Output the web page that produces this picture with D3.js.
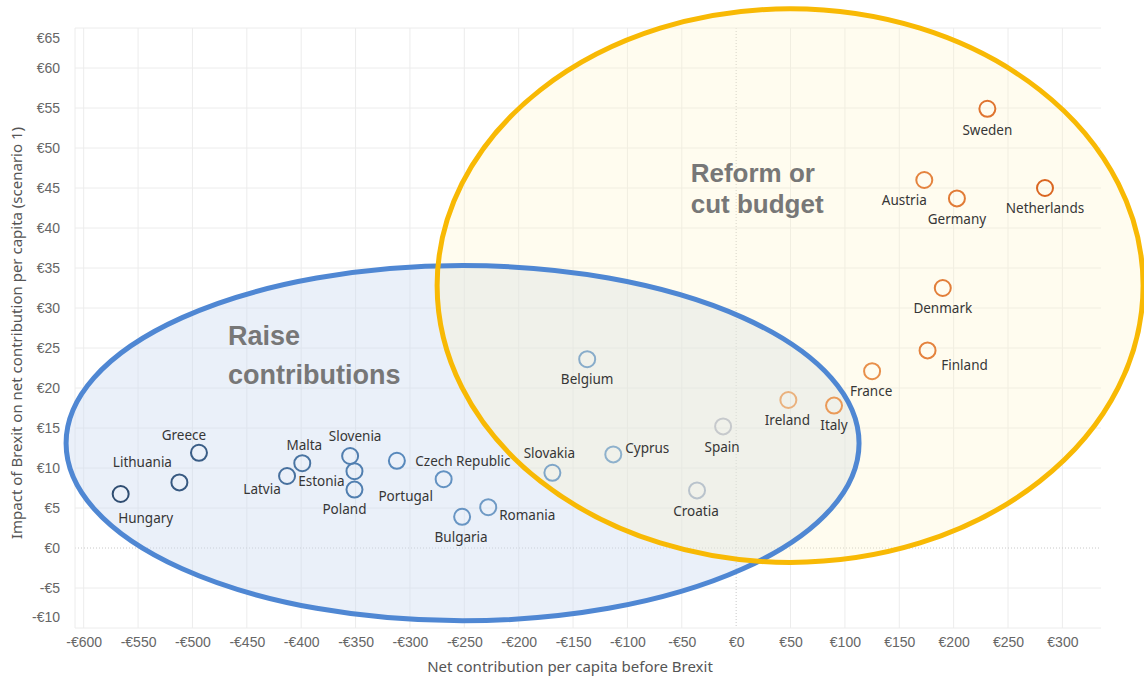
<!DOCTYPE html>
<html>
<head>
<meta charset="utf-8">
<script src="https://cdn.jsdelivr.net/npm/d3@7"></script>
<style>
  body { margin: 0; background: #fff; }
  svg { display: block; font-family: "Noto Sans", sans-serif; }
  .tick-label { fill: #666; font-size: 14px; }
  .axis-title { fill: #555; font-size: 15px; }
  .country { fill: #363636; font-size: 13.5px; }
  .group-title { fill: #777; font-family: "Liberation Sans", Arial, sans-serif; font-weight: bold; }
</style>
</head>
<body>
<div id="vis"></div>
<script>
// values
var countries = ["Hungary", "Lithuania", "Greece", "Latvia", "Malta", "Slovenia", "Estonia", "Poland",
    "Czech Republic", "Portugal", "Bulgaria", "Romania", "Slovakia", "Cyprus", "Belgium", "Croatia",
    "Spain", "Ireland", "Italy", "France", "Finland", "Denmark", "Austria", "Germany", "Netherlands", "Sweden"];
var netContribution = [-566, -512, -494, -413, -399, -355, -351, -351,
    -312, -269, -252, -228, -169, -113, -137, -36,
    -12, 48, 90, 125, 176, 190, 173, 203, 284, 231];
var brexitImpact = [6.75, 8.2, 11.9, 9.0, 10.6, 11.5, 9.6, 7.3,
    10.9, 8.6, 3.9, 5.1, 9.4, 11.7, 23.6, 7.2,
    15.2, 18.5, 17.8, 22.1, 24.7, 32.5, 46.0, 43.7, 45.0, 54.9];

var xTicks = d3.range(-600, 301, 50);
var yTicks = d3.range(-10, 66, 5);

// the two groups drawn as ellipses (centre and radii in data units)
var groupNames = ["Raise contributions", "Reform or cut budget"];
var groupCentreX = [-251.6, 49.6];
var groupCentreY = [13.1, 32.8];
var groupRadiusX = [364.6, 324.6];
var groupRadiusY = [22.2, 34.6];

// where each label sits relative to its circle
var labelOffset = {
    "Hungary": [25, 24], "Lithuania": [-37, -20], "Greece": [-15, -18], "Latvia": [-25, 13],
    "Malta": [2, -18], "Slovenia": [5, -20], "Estonia": [-33, 10], "Poland": [-10, 20],
    "Czech Republic": [66, 0], "Portugal": [-38, 17], "Bulgaria": [-1, 20], "Romania": [39, 8],
    "Slovakia": [-3, -20], "Cyprus": [34, -6], "Belgium": [0, 20], "Croatia": [-1, 21],
    "Spain": [-1, 21], "Ireland": [-1, 20], "Italy": [0, 20], "France": [-1, 20],
    "Finland": [37, 15], "Denmark": [0, 20], "Austria": [-20, 20], "Germany": [0, 21],
    "Netherlands": [0, 20], "Sweden": [0, 21]
};

var width = 1144, height = 679;
var plot = {left: 75, right: 1101, top: 28, bottom: 628};

var svg = d3.select("#vis").append("svg")
    .attr("width", width)
    .attr("height", height);

var x = d3.scaleLinear().domain([-608, 335.5]).range([plot.left, plot.right]);
var y = d3.scaleLinear().domain([-10, 65]).range([plot.bottom, plot.top]);

var colour = d3.scaleLinear()
    .domain([-570, -300, -110, 0, 50, 100, 290])
    .range(["#2e4c70", "#5a8cc0", "#8fb2cc", "#cccccc", "#ebb07a", "#ea9550", "#d9641f"])
    .interpolate(d3.interpolateLab);

// grid
var grid = svg.append("g");
grid.selectAll(".vgrid").data(xTicks).enter()
    .append("line")
    .attr("x1", function(d){ return x(d); })
    .attr("x2", function(d){ return x(d); })
    .attr("y1", plot.top)
    .attr("y2", plot.bottom)
    .attr("stroke", function(d){ return d === 0 ? "#c8c8c8" : "#ececec"; })
    .attr("stroke-dasharray", function(d){ return d === 0 ? "1,2" : null; });
grid.selectAll(".hgrid").data(yTicks).enter()
    .append("line")
    .attr("x1", plot.left)
    .attr("x2", plot.right)
    .attr("y1", function(d){ return y(d); })
    .attr("y2", function(d){ return y(d); })
    .attr("stroke", function(d){ return d === 0 ? "#c8c8c8" : "#ececec"; })
    .attr("stroke-dasharray", function(d){ return d === 0 ? "1,2" : null; });
grid.append("line")
    .attr("x1", plot.left).attr("x2", plot.left)
    .attr("y1", plot.top).attr("y2", plot.bottom)
    .attr("stroke", "#ececec");

// axes
var euro = function(d){ return (d < 0 ? "-" : "") + "€" + Math.abs(d); };
var xAxis = d3.axisBottom(x).tickValues(xTicks).tickSize(0).tickPadding(0).tickFormat(euro);
var gx = svg.append("g").attr("transform", "translate(0," + plot.bottom + ")").call(xAxis);
gx.select(".domain").remove();
gx.selectAll("text").attr("class", "tick-label").attr("y", 14).attr("dy", "0.35em");

var yAxis = d3.axisLeft(y).tickValues(yTicks).tickSize(0).tickPadding(15).tickFormat(euro);
var gy = svg.append("g").attr("transform", "translate(" + plot.left + ",0)").call(yAxis);
gy.select(".domain").remove();
gy.selectAll("text").attr("class", "tick-label")
    .attr("dy", function(d){
        // end labels are pulled inside the plot like the original
        if (d === 65) return "1.05em";
        if (d === -10) return "-0.45em";
        return "0.35em";
    });

svg.append("text")
    .attr("class", "axis-title")
    .attr("x", 570)
    .attr("y", 667)
    .attr("text-anchor", "middle")
    .attr("dy", "0.35em")
    .text("Net contribution per capita before Brexit");

svg.append("text")
    .attr("class", "axis-title")
    .attr("transform", "translate(17," + ((plot.top + plot.bottom) / 2 + 5) + ") rotate(-90)")
    .attr("text-anchor", "middle")
    .attr("dy", "0.35em")
    .text("Impact of Brexit on net contribution per capita (scenario 1)");

// group ellipses: fills first, then outlines
var fills = ["rgba(205,220,240,0.42)", "rgba(255,244,196,0.28)"];
var strokes = ["#4f87d3", "#f8b904"];
var ellipseAttrs = function(sel){
    sel.attr("cx", function(d, i){ return x(groupCentreX[i]); })
        .attr("cy", function(d, i){ return y(groupCentreY[i]); })
        .attr("rx", function(d, i){ return x(groupCentreX[i] + groupRadiusX[i]) - x(groupCentreX[i]); })
        .attr("ry", function(d, i){ return y(groupCentreY[i] - groupRadiusY[i]) - y(groupCentreY[i]); });
};
svg.append("g").selectAll("ellipse").data(groupNames).enter()
    .append("ellipse")
    .call(ellipseAttrs)
    .attr("fill", function(d, i){ return fills[i]; })
    .attr("stroke", "none");
svg.append("g").selectAll("ellipse").data(groupNames).enter()
    .append("ellipse")
    .call(ellipseAttrs)
    .attr("fill", "none")
    .attr("stroke", function(d, i){ return strokes[i]; })
    .attr("stroke-width", 5);

// group titles
var titles = svg.append("g");
titles.append("text").attr("class", "group-title")
    .attr("x", x(-467.3)).attr("y", y(25.4)).style("font-size", "27px").text("Raise");
titles.append("text").attr("class", "group-title")
    .attr("x", x(-467.3)).attr("y", y(20.5)).style("font-size", "27px").text("contributions");
titles.append("text").attr("class", "group-title")
    .attr("x", x(-41.8)).attr("y", y(45.7)).style("font-size", "26px").text("Reform or");
titles.append("text").attr("class", "group-title")
    .attr("x", x(-41.8)).attr("y", y(41.9)).style("font-size", "26px").text("cut budget");

// points
var pts = svg.append("g").selectAll("g").data(countries).enter().append("g");
pts.append("circle")
    .attr("cx", function(d, i){ return x(netContribution[i]); })
    .attr("cy", function(d, i){ return y(brexitImpact[i]); })
    .attr("r", 8)
    .attr("fill", "none")
    .attr("stroke", function(d, i){ return colour(netContribution[i]); })
    .attr("stroke-width", 2);
pts.append("text")
    .attr("class", "country")
    .attr("x", function(d, i){ return x(netContribution[i]) + labelOffset[d][0]; })
    .attr("y", function(d, i){ return y(brexitImpact[i]) + labelOffset[d][1]; })
    .attr("text-anchor", "middle")
    .attr("dy", "0.35em")
    .text(function(d){ return d; });
</script>
</body>
</html>
